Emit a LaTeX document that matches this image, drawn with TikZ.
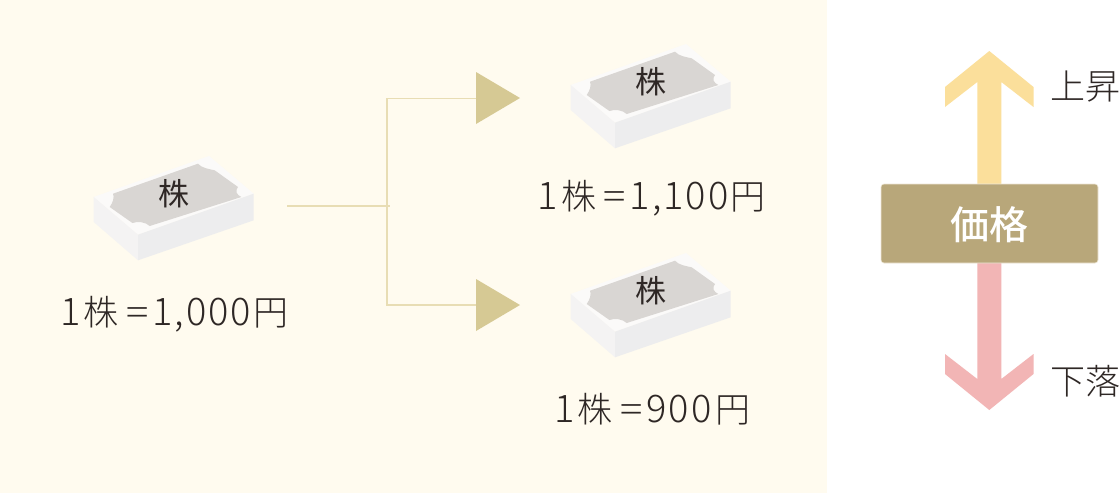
\documentclass[tikz,border=0pt]{standalone}
\usepackage{fontspec}
\usepackage{graphicx}
\setmainfont{Noto Sans CJK JP}
\newfontfamily\lightcjk{Noto Sans CJK JP Light}
\newfontfamily\medcjk{Noto Sans CJK JP Medium}
\definecolor{bgcream}{HTML}{FFFBEF}
\definecolor{inkc}{HTML}{2E2725}
\definecolor{linec}{HTML}{E8DDB4}
\definecolor{triC}{HTML}{D6C994}
\definecolor{upc}{HTML}{FBDF9B}
\definecolor{downc}{HTML}{F2B5B5}
\definecolor{boxc}{HTML}{B8A77A}
\definecolor{boxedge}{HTML}{EFE8D8}
\definecolor{topc}{HTML}{FBFAF9}
\definecolor{leftc}{HTML}{F4F3F3}
\definecolor{rightc}{HTML}{EDEDEE}
\definecolor{plate}{HTML}{D9D6D3}
\newcommand{\kj}[1]{{\fontsize{35}{35}\selectfont #1}}
\newcommand{\eqsign}{\kern6.5pt\makebox[24pt][c]{\scalebox{0.75}[1]{\kj{＝}}}\kern3pt}
\newcommand{\dg}{\kern2pt}
\tikzset{
  x=1pt,y=-1pt,
  lbl/.style={text=inkc,font=\lightcjk\fontsize{38}{38}\selectfont,inner sep=0pt,anchor=center},
  sidelbl/.style={text=inkc,font=\lightcjk\fontsize{35}{35}\selectfont,inner sep=0pt,anchor=west},
  conn/.style={draw=linec,line width=1.3pt},
  tri/.style={fill=triC,draw=none},
  pricebox/.style={fill=boxc,draw=boxedge,line width=0.6pt,rounded corners=3pt,minimum width=217pt,minimum height=79pt,inner sep=0pt,text=white,text depth=-1pt,font=\medcjk\fontsize{39}{39}\selectfont}
}
\newcommand{\stockblock}[3]{%
  \begin{scope}[shift={(#1,#2)}]
    \fill[topc] (0,0) -- (115.3,-41) -- (160,-3.3) -- (44.3,37.7) -- cycle;
    \fill[leftc] (0,0) -- (44.3,37.7) -- (44.3,63.3) -- (0,25) -- cycle;
    \fill[rightc] (44.3,37.7) -- (160,-3.3) -- (160,23.3) -- (44.3,63.3) -- cycle;
    \fill[plate] (19.3,-3.3) -- (104.3,-33.3) .. controls (108,-29) and (115,-28) .. (121,-26.7)
      -- (144.3,-10) .. controls (141,-6) and (143,-2) .. (147.7,0)
      -- (56,29) .. controls (52,25) and (44,24) .. (38.7,26)
      -- (16,10) .. controls (19,6) and (21,0) .. (19.3,-3.3) -- cycle;
    \node[text=inkc,font=\fontsize{31}{31}\selectfont,inner sep=0pt] (#3) at (80,-3) {株};
  \end{scope}}
\begin{document}
\begin{tikzpicture}
\useasboundingbox (0,0) rectangle (1120,493);
\clip (0,0) rectangle (1120,493);
\fill[white] (0,0) rectangle (1120,493);
\fill[bgcream] (0,0) rectangle (827,493);
\stockblock{93.7}{197}{s1}
\stockblock{570.7}{85}{s2}
\stockblock{570.7}{294}{s3}
\node[lbl] (t1) at (174.25,314) {1\kern3pt\kj{株}\eqsign 1\dg,\dg 0\dg 0\dg 0\dg\kj{円}};
\node[lbl] (t2) at (651.75,198) {1\kern3pt\kj{株}\eqsign 1\dg,\dg 1\dg 0\dg 0\dg\kj{円}};
\node[lbl] (t3) at (652.5,409) {1\kern3pt\kj{株}\eqsign 9\dg 0\dg 0\kern4pt\kj{円}};
\coordinate (c0) at (287,206);
\coordinate (cm) at (390,206);
\coordinate (cu) at (387,98.5);
\coordinate (cd) at (387,305);
\coordinate (au) at (476,98.5);
\coordinate (ad) at (476,305);
\draw[conn] (c0) -- (cm);
\draw[conn] (au) -- (cu) -- (cd) -- (ad);
\fill[tri] (476,72) -- (520,98) -- (476,124) -- cycle;
\fill[tri] (476,279) -- (520,305) -- (476,331) -- cycle;
\fill[upc] (977.3,186) -- (977.3,82) -- (945,107) -- (945,87) -- (989.3,51) -- (1033.5,87) -- (1033.5,107) -- (1001.3,82) -- (1001.3,186) -- cycle;
\fill[downc] (977.3,262) -- (977.3,379) -- (945,354) -- (945,374) -- (989.3,410) -- (1033.5,374) -- (1033.5,354) -- (1001.3,379) -- (1001.3,262) -- cycle;
\node[pricebox] (price) at (989.5,223.5) {価格};
\node[sidelbl] (up) at (1050,87) {上昇};
\node[sidelbl] (down) at (1050,381) {下落};
\end{tikzpicture}
\end{document}
